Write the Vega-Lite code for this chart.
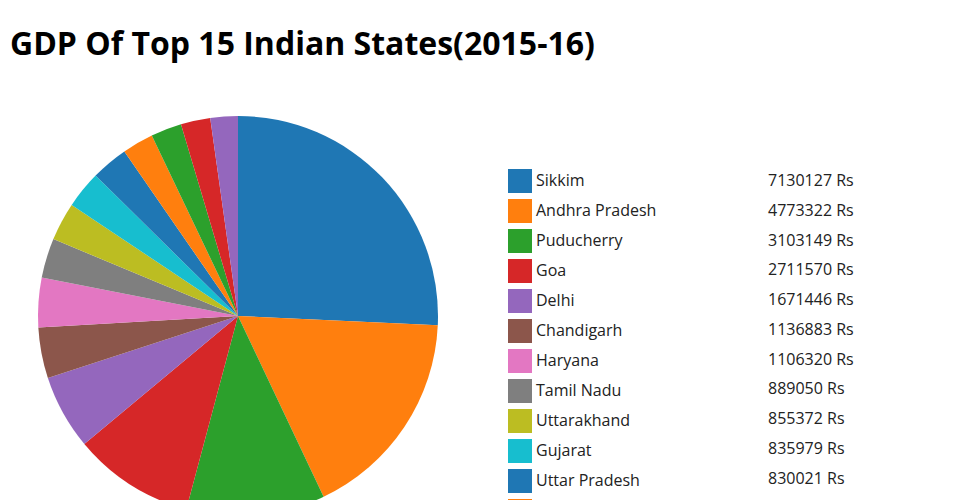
{
  "$schema": "https://vega.github.io/schema/vega-lite/v6.json",
  "autosize": "none",
  "width": 456,
  "height": 384,
  "padding": {"top": 116, "left": 10, "right": 494, "bottom": 0},
  "background": "white",
  "title": {
    "text": "GDP Of Top 15 Indian States(2015-16)",
    "anchor": "start",
    "font": "Open Sans",
    "fontSize": 32,
    "fontWeight": "bold",
    "color": "#000000",
    "baseline": "alphabetic",
    "offset": 29
  },
  "config": {
    "view": {"stroke": null},
    "legend": {
      "labelFont": "Open Sans",
      "labelFontSize": 16,
      "labelColor": "#222222",
      "padding": 0,
      "rowPadding": 6,
      "symbolType": "square",
      "symbolSize": 576,
      "labelOffset": 4,
      "labelLimit": 400
    }
  },
  "data": {
    "values": [
      {"state": "Sikkim", "gdp": 7130127},
      {"state": "Andhra Pradesh", "gdp": 4773322},
      {"state": "Puducherry", "gdp": 3103149},
      {"state": "Goa", "gdp": 2711570},
      {"state": "Delhi", "gdp": 1671446},
      {"state": "Chandigarh", "gdp": 1136883},
      {"state": "Haryana", "gdp": 1106320},
      {"state": "Tamil Nadu", "gdp": 889050},
      {"state": "Uttarakhand", "gdp": 855372},
      {"state": "Gujarat", "gdp": 835979},
      {"state": "Uttar Pradesh", "gdp": 830021},
      {"state": "Karnataka", "gdp": 700000},
      {"state": "Kerala", "gdp": 690000},
      {"state": "Maharashtra", "gdp": 660000},
      {"state": "Himachal Pradesh", "gdp": 615000}
    ]
  },
  "layer": [
    {
      "mark": {"type": "arc", "radius": 200, "yOffset": 8},
      "encoding": {
        "theta": {"field": "gdp", "type": "quantitative", "stack": true},
        "order": {"field": "gdp", "sort": "descending"},
        "color": {
          "field": "state",
          "type": "nominal",
          "sort": {"field": "gdp", "order": "descending"},
          "scale": {"scheme": "category10"},
          "legend": {
            "title": null,
            "orient": "none",
            "legendX": 498,
            "legendY": 53,
            "symbolStrokeWidth": 0,
            "symbolOpacity": 1
          }
        }
      }
    },
    {
      "mark": {"type": "point", "opacity": 0},
      "encoding": {
        "shape": {
          "field": "gdp",
          "type": "nominal",
          "sort": "descending",
          "legend": {
            "title": null,
            "orient": "none",
            "legendX": 730,
            "legendY": 53,
            "symbolOpacity": 0,
            "symbolStrokeWidth": 0,
            "labelExpr": "datum.label + ' Rs'"
          }
        }
      }
    }
  ]
}
